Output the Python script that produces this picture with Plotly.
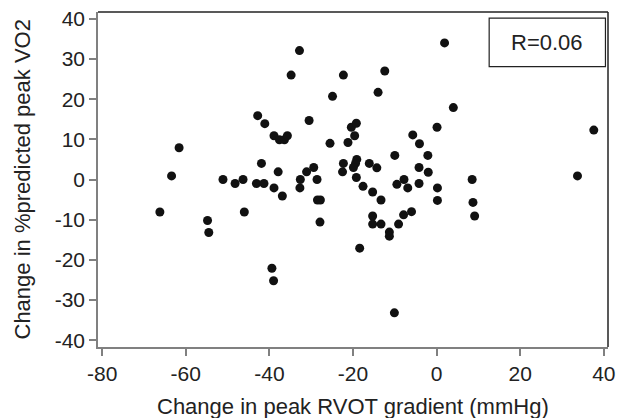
import plotly.graph_objects as go

x_vals = [-66.2, -63.4, -61.6, -54.8, -54.5, -51.1, -48.2, -46.3, -46.0, -43.1,
          -42.8, -41.9, -41.3, -41.1, -39.4, -39.0, -38.9, -38.9, -37.9, -37.6,
          -36.9, -36.4, -35.7, -34.8, -32.8, -32.6, -32.7, -31.1, -30.5, -29.4,
          -28.6, -28.5, -27.8, -27.9, -25.5, -24.9, -22.3, -22.3, -22.5, -21.2,
          -20.4, -19.2, -19.6, -19.1, -19.4, -19.9, -19.2, -18.4, -17.6, -16.1,
          -15.3, -15.3, -15.3, -14.3, -14.0, -13.3, -13.3, -12.4, -11.3, -11.3,
          -10.1, -10.0, -9.5, -9.1, -7.8, -7.9, -6.9, -6.0, -5.7, -4.1,
          -4.2, -4.2, -2.1, -2.0, 0.1, 0.2, 0.2, 1.9, 4.0, 8.5,
          8.7, 9.1, 33.7, 37.6]
y_vals = [-8.1, 0.9, 7.9, -10.2, -13.2, 0.0, -1.0, 0.0, -8.1, -1.0,
          15.9, 4.0, -1.0, 13.9, -22.1, -25.2, 10.9, -2.1, 1.9, 9.9,
          -4.1, 9.9, 10.9, 26.0, 32.1, 0.0, -2.1, 1.9, 14.7, 3.0,
          0.0, -5.1, -5.1, -10.6, 9.0, 20.7, 26.0, 4.0, 1.9, 9.2,
          13.0, 14.0, 10.9, 5.0, 4.0, 3.0, 0.5, -17.1, -1.7, 4.0,
          -3.1, -9.1, -11.1, 2.9, 21.7, -5.1, -11.1, 27.0, -13.1, -14.1,
          -33.2, 6.0, -1.2, -11.1, 0.0, -8.8, -2.1, -8.0, 11.1, 8.9,
          3.0, -1.0, 6.0, 1.8, 13.0, -2.1, -5.2, 34.0, 17.9, 0.0,
          -5.7, -9.1, 0.9, 12.3]

x_ticks = [-80, -60, -40, -20, 0, 20, 40]
y_ticks = [-40, -30, -20, -10, 0, 10, 20, 30, 40]
x_title = "Change in peak RVOT gradient (mmHg)"
y_title = "Change in %predicted peak VO2"
r_label = "R=0.06"

FONT = "Liberation Sans, Arial, sans-serif"
TXT = "#222222"
AX = "#808080"

fig = go.Figure()
fig.add_trace(go.Scatter(
    x=x_vals, y=y_vals, mode="markers",
    marker=dict(size=9, color="#111111", line=dict(width=0)),
    showlegend=False, hoverinfo="skip"))

fig.update_layout(
    width=617, height=418,
    margin=dict(l=98, r=9, t=12, b=71, autoexpand=False),
    paper_bgcolor="white", plot_bgcolor="white",
    font=dict(family=FONT, size=21, color=TXT),
    xaxis=dict(range=[-81.0, 41.0], tickvals=x_ticks, ticktext=[str(v) for v in x_ticks],
               showgrid=False, zeroline=False, showline=True, linecolor=AX, linewidth=1.5,
               ticks="outside", ticklen=7, tickwidth=1.5, tickcolor=AX, automargin=False,
               ticklabeloverflow="allow",
               tickfont=dict(family=FONT, size=21, color=TXT)),
    yaxis=dict(range=[-41.7, 41.7], tickvals=y_ticks, ticktext=[str(v) for v in y_ticks],
               showgrid=False, zeroline=False, showline=True, linecolor=AX, linewidth=1.5,
               ticks="outside", ticklen=7, tickwidth=1.5, tickcolor=AX, automargin=False,
               ticklabeloverflow="allow",
               tickfont=dict(family=FONT, size=21, color=TXT)),
)

# axis titles
fig.add_annotation(xref="paper", yref="paper", x=0.5, y=-0.177, text=x_title, showarrow=False,
                   font=dict(family=FONT, size=22, color=TXT), xanchor="center", yanchor="middle")
fig.add_annotation(xref="paper", yref="paper", x=-0.149, y=0.5, text=y_title, showarrow=False,
                   textangle=-90, font=dict(family=FONT, size=22, color=TXT),
                   xanchor="center", yanchor="middle")

# top and right frame lines
fig.add_shape(type="line", xref="paper", yref="paper", x0=0, x1=1, y0=1, y1=1,
              line=dict(color="#222222", width=1.5))
fig.add_shape(type="line", xref="paper", yref="paper", x0=1, x1=1, y0=0, y1=1,
              line=dict(color="#222222", width=1.5))

# R box
fig.add_shape(type="rect", xref="paper", yref="paper", x0=0.767, x1=0.995, y0=0.837, y1=0.982,
              line=dict(color="#222222", width=1.2), fillcolor="white")
fig.add_annotation(xref="paper", yref="paper", x=0.881, y=0.91, text=r_label, showarrow=False,
                   font=dict(family=FONT, size=22, color=TXT), xanchor="center", yanchor="middle")

fig.write_html("out.html",
               config={"displayModeBar": False},
               post_script="document.body.style.margin='0';document.body.style.overflow='hidden';")
